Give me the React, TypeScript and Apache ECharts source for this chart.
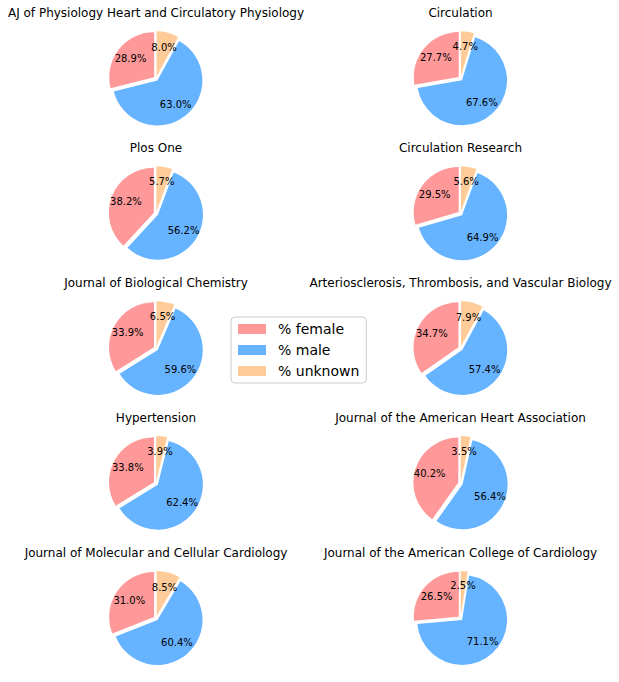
import React, { useEffect, useRef } from "react";
import * as echarts from "echarts";

const journals = [
  "AJ of Physiology Heart and Circulatory Physiology",
  "Circulation",
  "Plos One",
  "Circulation Research",
  "Journal of Biological Chemistry",
  "Arteriosclerosis, Thrombosis, and Vascular Biology",
  "Hypertension",
  "Journal of the American Heart Association",
  "Journal of Molecular and Cellular Cardiology",
  "Journal of the American College of Cardiology",
];
const female = [28.9, 27.7, 38.2, 29.5, 33.9, 34.7, 33.8, 40.2, 31.0, 26.5];
const male = [63.0, 67.6, 56.2, 64.9, 59.6, 57.4, 62.4, 56.4, 60.4, 71.1];
const unknown = [8.0, 4.7, 5.7, 5.6, 6.5, 7.9, 3.9, 3.5, 8.5, 2.5];
const categories = ["% female", "% male", "% unknown"];
const colors = ["#ff9999", "#66b3ff", "#ffcc99"];

const FONT = "DejaVu Sans";

export default function App() {
  const ref = useRef<HTMLDivElement>(null);
  useEffect(() => {
    document.body.style.margin = "0";
    const chart = echarts.init(ref.current!, null, { renderer: "svg" });
    const R = 45;
    const colX = [156, 460.5];
    const row0 = 78.6;
    const rowStep = 134.9;
    const series: any[] = [];
    const graphics: any[] = [];
    journals.forEach((name, i) => {
      const cx = colX[i % 2];
      const cy = row0 + rowStep * Math.floor(i / 2);
      const vals = [female[i], male[i], unknown[i]];
      const data = vals.map((v, k) => ({
        name: categories[k],
        value: v,
        selected: true,
        itemStyle: { color: colors[k] },
      }));
      series.push({
        type: "pie",
        center: [cx, cy],
        radius: [0, R],
        startAngle: 90,
        clockwise: false,
        selectedMode: "multiple",
        selectedOffset: 2.3,
        avoidLabelOverlap: false,
        itemStyle: { borderWidth: 0 },
        label: { show: false },
        labelLine: { show: false },
        emphasis: { disabled: true },
        data,
      });
      series.push({
        type: "pie",
        center: [cx, cy],
        radius: [R * 0.2, R],
        startAngle: 90,
        clockwise: false,
        selectedMode: "multiple",
        selectedOffset: 2.3,
        avoidLabelOverlap: false,
        minShowLabelAngle: 0,
        silent: true,
        itemStyle: { color: "rgba(0,0,0,0)", borderWidth: 0 },
        label: {
          show: true,
          position: "inside",
          color: "#000",
          fontFamily: FONT,
          fontSize: 10,
          overflow: "none",
          formatter: (p: any) => Number(p.value).toFixed(1) + "%",
        },
        labelLayout: { hideOverlap: false },
        labelLine: { show: false },
        emphasis: { disabled: true },
        data: vals.map((v, k) => ({
          name: categories[k],
          value: v,
          selected: true,
          itemStyle: { color: "rgba(0,0,0,0)" },
        })),
      });
      graphics.push({
        type: "text",
        x: cx,
        y: 13 + rowStep * Math.floor(i / 2),
        style: {
          text: name,
          fill: "#000",
          font: `12px "${FONT}"`,
          textAlign: "center",
          textVerticalAlign: "middle",
        },
      });
    });
    chart.setOption({
      animation: false,
      backgroundColor: "#fff",
      legend: {
        orient: "vertical",
        left: 231,
        top: 317,
        data: categories.map((c, k) => ({ name: c, itemStyle: { color: colors[k] } })),
        icon: "rect",
        itemWidth: 28,
        itemHeight: 10,
        itemGap: 7,
        padding: [5, 7, 5, 7],
        borderColor: "#cccccc",
        borderWidth: 1,
        borderRadius: 4,
        backgroundColor: "#fff",
        selectedMode: false,
        textStyle: {
          fontFamily: FONT,
          fontSize: 14,
          color: "#000",
          padding: [0, 0, 0, 7],
        },
      },
      series,
      graphic: graphics,
    });
    return () => chart.dispose();
  }, []);
  return <div ref={ref} style={{ width: 619, height: 682 }} />;
}
